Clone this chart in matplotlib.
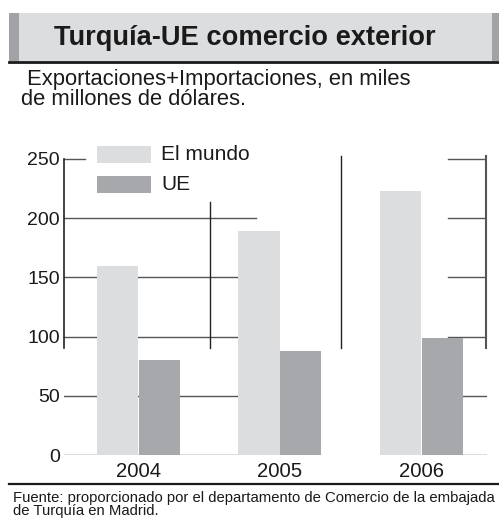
import matplotlib
matplotlib.use("Agg")
import matplotlib.pyplot as plt
from matplotlib.patches import Rectangle
from matplotlib.lines import Line2D
from matplotlib import font_manager

years = ["2004", "2005", "2006"]
series_names = ["El mundo", "UE"]
mundo = [160, 189, 223]
ue = [80, 88, 99]
y_ticks = [0, 50, 100, 150, 200, 250]

installed = {f.name for f in font_manager.fontManager.ttflist}
narrow = "Liberation Sans Narrow" if "Liberation Sans Narrow" in installed else "Liberation Sans"
plt.rcParams["font.family"] = ["Liberation Sans", "DejaVu Sans"]

W, H = 499, 520
fig = plt.figure(figsize=(W / 100, H / 100), dpi=100)


def fx(px):
    return px / W


def fy(py):
    return 1 - py / H


# title bar
fig.patches.append(Rectangle((fx(9), fy(61)), fx(490), 48 / H, transform=fig.transFigure,
                             facecolor="#dcdddf", edgecolor="none"))
fig.patches.append(Rectangle((fx(9), fy(61)), fx(10), 48 / H, transform=fig.transFigure,
                             facecolor="#a2a3a6", edgecolor="none"))
fig.patches.append(Rectangle((fx(492), fy(61)), fx(7), 48 / H, transform=fig.transFigure,
                             facecolor="#a2a3a6", edgecolor="none"))
fig.lines.append(Line2D([fx(9), 1], [fy(61.5), fy(61.5)], transform=fig.transFigure,
                        color="#1a1a1a", lw=2))
fig.text(fx(245), fy(38), "Turquía-UE comercio exterior", family=[narrow, "DejaVu Sans"],
         weight="bold", fontsize=19.6, ha="center", va="center", color="#1a1a1a")

fig.text(fx(21), fy(89.5), " Exportaciones+Importaciones, en miles\nde millones de dólares.",
         fontsize=15.8, linespacing=0.88, ha="left", va="center", color="#1a1a1a")

# chart
ax = fig.add_axes([fx(64), 65 / H, fx(423), (455 - 153) / H])
x = list(range(len(years)))
off = 0.148
bw = 0.29
ax.bar([i - off for i in x], mundo, bw, color="#dcdddf", zorder=2)
ax.bar([i + off for i in x], ue, bw, color="#a7a8ab", zorder=2)

xl, xr = -0.526, 2.463
ax.set_xlim(xl, xr)
ax.set_ylim(0, 255)

gcol = "#555555"
for v in y_ticks:
    if v == 250:
        ax.plot([xl, -0.378], [v, v], color=gcol, lw=1, zorder=1)
    else:
        ax.plot([xl, 0.83], [v, v], color=gcol, lw=1, zorder=1)
    ax.plot([2.187, xr], [v, v], color=gcol, lw=1, zorder=1)

ax.plot([xl, xl], [90, 250], color="#222222", lw=1.2, zorder=1, clip_on=False)
ax.plot([0.505, 0.505], [90, 214], color="#222222", lw=1, zorder=1)
ax.plot([1.431, 1.431], [90, 252.5], color="#222222", lw=1, zorder=1)
ax.plot([xr - 0.004, xr - 0.004], [90, 252.5], color="#555555", lw=1.5, zorder=1, clip_on=False)

for s in ax.spines.values():
    s.set_visible(False)
ax.set_yticks(y_ticks)
ax.set_yticklabels([str(v) for v in y_ticks], fontsize=14)
ax.set_xticks(x)
ax.set_xticklabels(years, fontsize=14.6)
ax.tick_params(axis="y", length=0, pad=3, labelcolor="#1a1a1a")
ax.tick_params(axis="x", length=0, pad=5, labelcolor="#1a1a1a")

# legend
leg_colors = ["#dcdddf", "#a7a8ab"]
for k, name in enumerate(series_names):
    top = 146 + 30 * k
    fig.patches.append(Rectangle((fx(97), fy(top + 17)), fx(54), 17 / H,
                                 transform=fig.transFigure, facecolor=leg_colors[k],
                                 edgecolor="none"))
    fig.text(fx(161), fy(top + 8.5), name, fontsize=15, ha="left", va="center",
             color="#1a1a1a")

fig.lines.append(Line2D([fx(9), 1], [fy(484), fy(484)], transform=fig.transFigure,
                        color="#1a1a1a", lw=1.6))
fig.text(fx(13), fy(504.5),
         "Fuente: proporcionado por el departamento de Comercio de la embajada\nde Turquía en Madrid.",
         fontsize=10.7, linespacing=0.95, ha="left", va="center", color="#1a1a1a")

fig.savefig("out.png", dpi=100)
